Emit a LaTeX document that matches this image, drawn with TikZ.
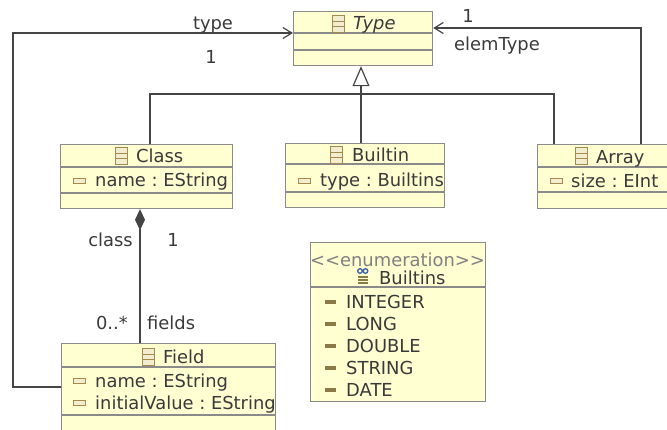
\documentclass[tikz,border=0pt]{standalone}
\usepackage{fontspec}
\setmainfont{DejaVu Sans}
\usepackage{xcolor}
\usetikzlibrary{arrows.meta}

\definecolor{boxfill}{HTML}{FFFFD2}
\definecolor{boxline}{HTML}{8A8A8A}
\definecolor{wire}{HTML}{454545}
\definecolor{txt}{HTML}{3A3A3A}
\definecolor{icon}{HTML}{A48A4E}
\definecolor{iconfill}{HTML}{F2EDCF}
\definecolor{litc}{HTML}{8C7A46}
\definecolor{ringc}{HTML}{3A5FA8}

\begin{document}
\frenchspacing
\begin{tikzpicture}[x=1pt, y=-1pt,
    font=\fontsize{17.9}{20}\selectfont,
    box/.style={draw=boxline, line width=1.2pt, fill=boxfill, inner sep=0pt, anchor=north west},
    sep/.style={draw=boxline, line width=1.2pt},
    lbl/.style={text=txt, inner sep=0pt, anchor=base west},
    link/.style={draw=wire, line width=1.2pt},
    clsicon/.style={draw=icon, fill=iconfill, line width=0.9pt, inner sep=0pt,
      minimum width=12pt, minimum height=17pt, anchor=north west,
      path picture={
        \draw[icon, line width=0.9pt] ([yshift=-5.7pt]path picture bounding box.north west) -- ([yshift=-5.7pt]path picture bounding box.north east);
        \draw[icon, line width=0.9pt] ([yshift=5.7pt]path picture bounding box.south west) -- ([yshift=5.7pt]path picture bounding box.south east);}},
    attricon/.style={draw=icon, fill=iconfill, line width=0.9pt, inner sep=0pt,
      minimum width=12pt, minimum height=5pt, anchor=west},
    liticon/.style={fill=litc, inner sep=0pt, minimum width=11pt, minimum height=3.4pt, anchor=west}]
    \useasboundingbox (0,0) rectangle (667,429);

    % boxes
    \node[box, minimum width=139pt, minimum height=54pt] (type) at (293,11) {};
    \node[box, minimum width=172pt, minimum height=64pt] (cls) at (60,144) {};
    \node[box, minimum width=159pt, minimum height=64pt] (bltn) at (285,143) {};
    \node[box, minimum width=140pt, minimum height=64pt] (arr) at (537,144) {};
    \node[box, minimum width=214pt, minimum height=100pt] (fld) at (61,343) {};
    \node[box, minimum width=175pt, minimum height=159pt] (enm) at (310,242) {};

    \draw[sep] (293,33) -- (432,33);
    \draw[sep] (293,50) -- (432,50);
    \draw[sep] (60,167) -- (232,167);
    \draw[sep] (60,193) -- (232,193);
    \draw[sep] (285,164) -- (444,164);
    \draw[sep] (285,192) -- (444,192);
    \draw[sep] (537,167) -- (677,167);
    \draw[sep] (537,192) -- (677,192);
    \draw[sep] (61,367) -- (275,367);
    \draw[sep] (61,415) -- (275,415);
    \draw[sep] (310,287) -- (485,287);

    % Type
    \node[clsicon] (typeI) at (332,15) {};
    \node[lbl] (typeN) at (353,29) {\itshape Type};

    % Class
    \node[clsicon] (clsI) at (115,147) {};
    \node[lbl] (clsN) at (136,162.5) {Class};
    \node[attricon] (clsAI) at (73,180.5) {};
    \node[lbl] (clsA) at (95,186) {name : EString};

    % Builtin
    \node[clsicon] (bltnI) at (330,146) {};
    \node[lbl] (bltnN) at (352,161) {Builtin};
    \node[attricon] (bltnAI) at (298,180.5) {};
    \begin{scope}
      \clip (bltn.north west) rectangle (bltn.south east);
      \node[lbl] (bltnA) at (320,186) {type : Builtins};
    \end{scope}

    % Array
    \node[clsicon] (arrI) at (575,147) {};
    \node[lbl] (arrN) at (596,163) {Array};
    \node[attricon] (arrAI) at (550,181) {};
    \node[lbl] (arrA) at (571,187) {size : EInt};

    % Field
    \node[clsicon] (fldI) at (142,348) {};
    \node[lbl] (fldN) at (163,363) {Field};
    \node[attricon] (fldAI1) at (73,380.5) {};
    \node[attricon] (fldAI2) at (73,403) {};
    \begin{scope}
      \clip (fld.north west) rectangle (fld.south east);
      \node[lbl] (fldA1) at (95,387) {name : EString};
      \node[lbl] (fldA2) at (95,409) {initialValue : EString};
    \end{scope}

    % Builtins enumeration
    \begin{scope}
      \clip (enm.north west) rectangle (enm.south east);
      \node[lbl, text=gray, anchor=base] (enmS) at (397.5,266) {\textless{}\textless{}enumeration\textgreater{}\textgreater{}};
    \end{scope}
    \draw[ringc, line width=1.3pt] (360,271) circle (2.3) (365.5,271) circle (2.3);
    \fill[litc] (357.5,276) rectangle (368,277.6);
    \fill[litc] (357.5,279) rectangle (368,280.6);
    \fill[litc] (357.5,282) rectangle (368,283.6);
    \node[lbl] (enmN) at (379,284) {Builtins};
    \node[liticon] (litI1) at (325,302) {};
    \node[liticon] (litI2) at (325,324) {};
    \node[liticon] (litI3) at (325,346) {};
    \node[liticon] (litI4) at (325,368) {};
    \node[liticon] (litI5) at (325,390) {};
    \node[lbl] (lit1) at (346,308) {INTEGER};
    \node[lbl] (lit2) at (346,330) {LONG};
    \node[lbl] (lit3) at (346,352) {DOUBLE};
    \node[lbl] (lit4) at (346,374) {STRING};
    \node[lbl] (lit5) at (346,396) {DATE};

    % connectors
    \coordinate (gbar) at (361,94);
    \coordinate (gl) at (150,94);
    \coordinate (gr) at (554,94);
    \draw[link] (cls.north -| gl) -- (gl) -- (gr) -- (arr.north -| gr);
    \draw[link, -{Triangle[length=20pt, width=17pt, fill=white]}] (bltn.north -| gbar) -- (type.south -| gbar);

    \coordinate (cmp) at (140,230);
    \draw[link, -{Diamond[length=21pt, width=10pt]}] (fld.north -| cmp) -- (cls.south -| cmp);

    \coordinate (tyA) at (13,387);
    \coordinate (tyB) at (13,33);
    \draw[link, -{Straight Barb[length=9pt, width=11pt]}] (fld.west |- tyA) -- (tyA) -- (tyB) -- (tyB -| type.west);

    \coordinate (elA) at (641,28);
    \draw[link, -{Straight Barb[length=9pt, width=11pt]}] (arr.north -| elA) -- (elA) -- (elA -| type.east);

    % role labels
    \node[lbl, anchor=base] (tyR) at (213,29) {type};
    \node[lbl, anchor=base] (tyM) at (211,63) {1};
    \node[lbl, anchor=base] (elM) at (468,22) {1};
    \begin{scope}
      \clip (440,30) rectangle (538,60);
      \node[lbl] (elR) at (454,50) {elemType};
    \end{scope}
    \node[lbl, anchor=base east] (clR) at (133,246) {class};
    \node[lbl, anchor=base] (clM) at (173,246) {1};
    \node[lbl, anchor=base east] (fdM) at (128,329) {0..*};
    \node[lbl] (fdR) at (147,329) {fields};
\end{tikzpicture}
\end{document}
